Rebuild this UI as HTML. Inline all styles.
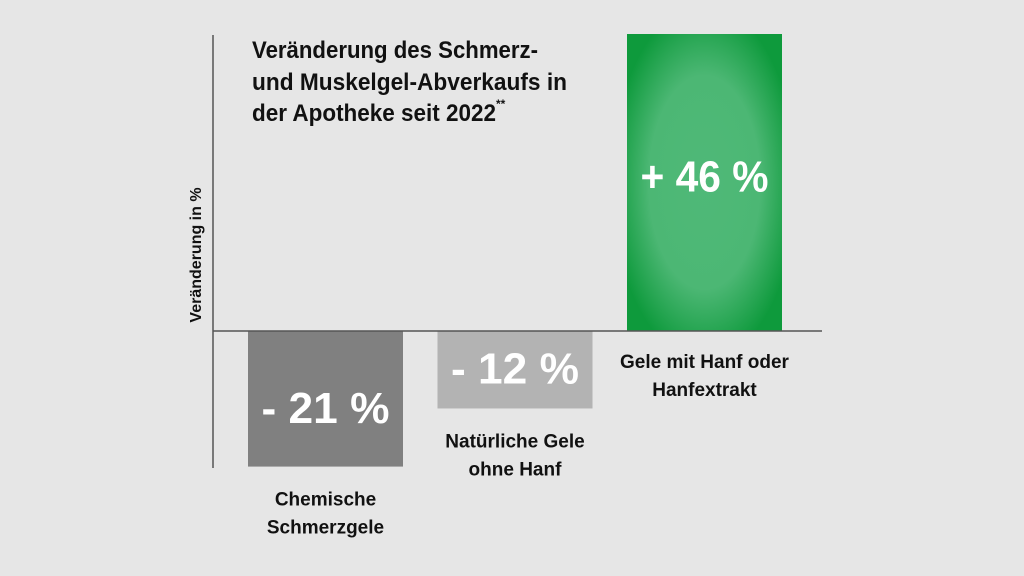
<!DOCTYPE html>
<html><head><meta charset="utf-8"><style>
html,body{margin:0;padding:0;background:#e6e6e6;}
svg{display:block;font-family:"Liberation Sans Narrow","Liberation Sans",sans-serif;font-weight:bold;}
</style></head><body>
<svg id="chart" width="1024" height="576" viewBox="0 0 1024 576">
<defs>
<radialGradient id="g" cx="50%" cy="50%" r="60%">
<stop offset="0" stop-color="#4fb978"/><stop offset="0.6" stop-color="#4cb774"/><stop offset="1" stop-color="#0e9a3c"/>
</radialGradient>
</defs>
<rect width="1024" height="576" fill="#e6e6e6"/>
<g id="bars"></g>
<line x1="213" y1="35" x2="213" y2="468" stroke="#555" stroke-width="1.5"/>
<line x1="213" y1="331" x2="822" y2="331" stroke="#555" stroke-width="1.5"/>
<g fill="#111" font-size="24">
<text x="252" y="58" textLength="286" lengthAdjust="spacingAndGlyphs">Veränderung des Schmerz-</text>
<text x="252" y="90" textLength="315" lengthAdjust="spacingAndGlyphs">und Muskelgel-Abverkaufs in</text>
<text x="252" y="121" textLength="244" lengthAdjust="spacingAndGlyphs">der Apotheke seit 2022</text>
<text x="496" y="108" font-size="12">**</text>
</g>
<text transform="translate(201,255) rotate(-90)" text-anchor="middle" font-size="16" fill="#111">Veränderung in %</text>
<g id="labels"></g>
</svg>
<script>
const categories=["Chemische Schmerzgele","Natürliche Gele ohne Hanf","Gele mit Hanf oder Hanfextrakt"];
const values=[-21,-12,46];
const valueLabels=["- 21 %","- 12 %","+ 46 %"];
const catLines=[["Chemische","Schmerzgele"],["Natürliche Gele","ohne Hanf"],["Gele mit Hanf oder","Hanfextrakt"]];
const fills=["#808080","#b3b3b3","url(#g)"];
const NS="http://www.w3.org/2000/svg";
const y0=331, pxPer=297/46;
function yScale(v){return y0-v*pxPer;}
function xLeft(i){return 248+i*189.5;}
const bw=155;
const bars=document.getElementById('bars'), labels=document.getElementById('labels');
values.forEach((v,i)=>{
  const r=document.createElementNS(NS,'rect');
  const y=Math.min(yScale(v),y0), h=Math.abs(yScale(v)-y0);
  r.setAttribute('x',xLeft(i));r.setAttribute('y',y);r.setAttribute('width',bw);r.setAttribute('height',h);r.setAttribute('fill',fills[i]);
  
  
  bars.appendChild(r);
  const cx=xLeft(i)+bw/2;
  const t=document.createElementNS(NS,'text');
  t.setAttribute('x',cx);t.setAttribute('text-anchor','middle');t.setAttribute('fill','#fff');t.setAttribute('font-size','44');
  t.setAttribute('y', v>0 ? yScale(v)+ (yScale(0)-yScale(v))*0.53 : y0+h*0.68);
  t.setAttribute('textLength','128');t.setAttribute('lengthAdjust','spacingAndGlyphs');
  t.textContent=valueLabels[i];
  
  
  labels.appendChild(t);
  const base = v<0 ? Math.max(yScale(v),y0)+39 : y0+37;
  catLines[i].forEach((ln,j)=>{
    const c=document.createElementNS(NS,'text');
    c.setAttribute('x',cx);c.setAttribute('y',base+j*28);c.setAttribute('text-anchor','middle');c.setAttribute('font-size','19');c.setAttribute('fill','#111');
    c.textContent=ln;
    
    
    labels.appendChild(c);
  });
});
</script>
</body></html>
